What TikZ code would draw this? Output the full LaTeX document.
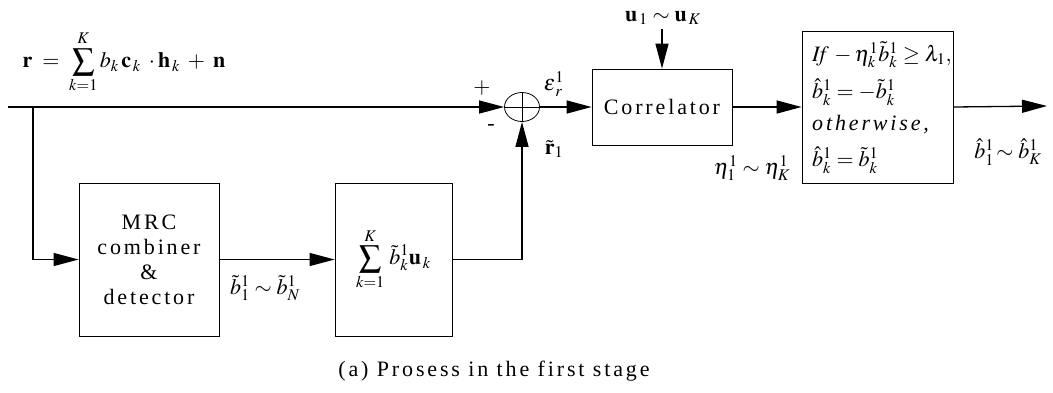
\documentclass[tikz,border=0pt]{standalone}
\usepackage{amsmath}
\usepackage{mathptmx}
\usepackage[no-math]{fontspec}
\setmainfont{Liberation Serif}
\newfontfamily\spaced[LetterSpace=13]{Liberation Serif}
\usetikzlibrary{arrows.meta,shapes.geometric}
\tikzset{
  blk/.style={draw, line width=0.8pt, inner sep=0pt},
  conn/.style={line width=1.3pt, -{Triangle[length=25pt,width=13pt]}},
  lbl/.style={inner sep=0pt},
}
\begin{document}
\begin{tikzpicture}[x=1pt,y=-1pt,font=\fontsize{22}{26}\selectfont]
\useasboundingbox (0,0) rectangle (1053,392);
% equation
\node[lbl] (eq) at (124,62) {$\mathbf r \;=\; \displaystyle\sum_{k=1}^{K} b_{k}\,\mathbf c_{\,k}\;\cdot\mathbf h_{\,k} \;+\; \mathbf n$};
% coordinates
\coordinate (start) at (8,107);
\coordinate (branch) at (33,107);
\coordinate (utop) at (662,29);
\coordinate (out) at (1047,106);
% blocks
\node[blk, minimum width=140pt, minimum height=153pt, align=center] (mrc) at (149,259.5)
  {\spaced MRC\\[-1pt]\spaced combiner\\[-1pt]\spaced \&\\[-1pt]\spaced detector};
\node[blk, minimum width=117pt, minimum height=153pt] (sumb) at (393.5,259.5)
  {$\displaystyle\sum_{k=1}^{K}\,\tilde b_k^1\mathbf u_{\,k}$};
\node[draw, ellipse, line width=0.8pt, minimum width=35pt, minimum height=29pt, inner sep=0pt] (add) at (522,107) {};
\node[blk, minimum width=140pt, minimum height=76pt] (corr) at (662,107) {\spaced Correlator};
\node[blk, minimum width=151pt, minimum height=152pt] (dec) at (877.5,107) {};
% adder cross
\draw[line width=0.8pt] (add.north) -- (add.south) (add.west) -- (add.east);
% decision text
\node[lbl, anchor=west] (d1) at (812,55) {$\mathit{If}\,-\eta_k^1\tilde b_k^1 \geq \lambda_1,$};
\node[lbl, anchor=west] (d2) at (812,92) {$\hat b_k^1 = -\tilde b_k^1$};
\node[lbl, anchor=west] (d3) at (812,125) {{\spaced\itshape otherwise,}};
\node[lbl, anchor=west] (d4) at (812,160) {$\hat b_k^1 = \tilde b_k^1$};
% connectors
\draw[conn] (start) -- (add.west);
\draw[conn] (branch) |- (mrc.west);
\draw[conn] (mrc.east) -- (sumb.west);
\draw[conn] (sumb.east) -| (add.south);
\draw[conn] (add.east) -- (corr.west);
\draw[conn] (utop) -- (corr.north);
\draw[conn] (corr.east) -- (dec.west);
\draw[conn] (dec.east) -- (out);
% labels
\node[lbl] (plus) at (482,88) {$+$};
\node[lbl] (minus) at (491,127) {-};
\node[lbl] (eps) at (554,84) {$\boldsymbol{\varepsilon}_r^1$};
\node[lbl] (rt) at (554,149) {$\tilde{\mathbf r}_1$};
\node[lbl] (ul) at (663,18) {$\mathbf u_{\,1}\sim\mathbf u_{\,K}$};
\node[lbl] (eta) at (752,168) {$\eta_1^1\sim\eta_K^1$};
\node[lbl] (bh) at (1008,152) {$\hat b_1^1\!\sim\hat b_K^1$};
\node[lbl] (bt) at (265,288) {$\tilde b_1^1\sim\tilde b_N^1$};
\node[lbl] (cap) at (494,371) {\spaced (a) Prosess in the first stage};
\end{tikzpicture}
\end{document}
